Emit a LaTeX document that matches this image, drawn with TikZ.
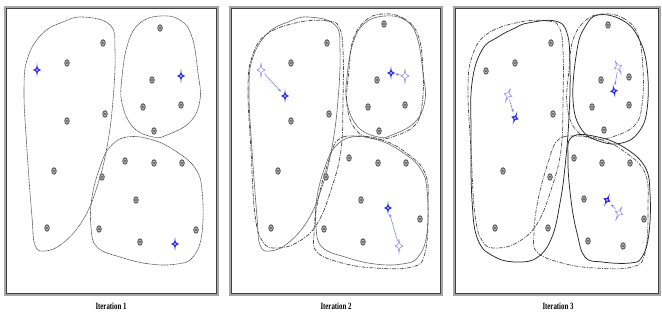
\documentclass[tikz,border=0pt]{standalone}
\usepackage{fontspec}
\setmainfont{Liberation Serif}
\usetikzlibrary{shapes.geometric,arrows.meta}

\definecolor{cblue}{HTML}{2B2BE8}
\definecolor{oblue}{HTML}{8A8AF5}

\tikzset{
  framebox/.style={draw=gray!70, line width=2pt},
  frameline/.style={draw=black!75, line width=0.5pt},
  datapt/.style={ellipse, minimum width=5.5pt, minimum height=7.5pt, inner sep=0pt,
    fill=black!62,
    path picture={\draw[gray!30, line width=0.5pt]
      (path picture bounding box.center) ellipse (1.3pt and 2.1pt);}},
  oldhull/.style={draw=gray!80!black, line width=0.6pt},
  firsthull/.style={draw=gray!60!black, line width=0.6pt, dash pattern=on 1pt off 0.5pt},
  prevhull/.style={draw=black!70, line width=0.75pt,
    dash pattern=on 4pt off 1.3pt on 1pt off 1.3pt},
  prevhulllight/.style={draw=gray!60!black, line width=0.7pt,
    dash pattern=on 4pt off 1.3pt on 1pt off 1.3pt},
  newhull/.style={draw=black!85, line width=0.75pt},
  move/.style={draw=oblue!80!cblue, line width=0.5pt,
    -{Stealth[length=3pt,width=2.4pt]}, shorten <=5pt, shorten >=6pt},
  lbl/.style={font=\bfseries\fontsize{9.5}{10}\selectfont, inner sep=0pt},
  pics/centroid/.style={code={
    \fill[cblue, even odd rule]
      (0,-7) .. controls (0.5,-1.4) and (1.2,-0.5) .. (4,0)
      .. controls (1.2,0.5) and (0.5,1.4) .. (0,7)
      .. controls (-0.5,1.4) and (-1.2,0.5) .. (-4,0)
      .. controls (-1.2,-0.5) and (-0.5,-1.4) .. (0,-7)
      (0,0) circle (1.1);}},
  pics/oldcentroid/.style={code={
    \draw[oblue, line width=0.6pt, fill=white]
      (0,-7) .. controls (0.5,-1.4) and (1.2,-0.5) .. (4,0)
      .. controls (1.2,0.5) and (0.5,1.4) .. (0,7)
      .. controls (-0.5,1.4) and (-1.2,0.5) .. (-4,0)
      .. controls (-1.2,-0.5) and (-0.5,-1.4) .. (0,-7);}}
}

% cluster outlines, in panel-local coordinates
\def\hullAa{(83,17) (110,25) (115,50) (113,100) (107,147) (97,187) (83,220) (63,243) (45,251) (35,245) (32,217) (27,150) (24,90) (28,57) (43,33) (63,22)}
\def\hullBa{(160,16) (180,20) (192,37) (198,73) (200,100) (190,122) (167,135) (153,137) (133,127) (122,103) (122,77) (128,43) (140,23)}
\def\hullCa{(127,137) (153,140) (177,152) (195,168) (202,190) (202,233) (193,257) (177,264) (150,264) (120,257) (97,247) (91,227) (92,197) (100,167) (110,147)}
\def\hullAb{(75,22) (103,21) (114,27) (118,50) (118,100) (116,150) (106,190) (92,224) (73,242) (52,248) (38,242) (30,215) (26,150) (23,90) (27,57) (42,34)}
\def\hullBb{(157,14) (178,18) (193,35) (198,70) (197,105) (190,125) (170,136) (150,139) (131,130) (122,105) (124,70) (128,40) (140,21)}
\def\hullCb{(113,140) (133,136) (157,140) (180,152) (200,173) (203,207) (200,253) (187,267) (150,268) (117,263) (92,252) (89,233) (93,200) (103,163)}
\def\hullAc{(83,23) (110,21) (122,33) (125,67) (124,117) (120,167) (115,203) (107,237) (93,257) (73,262) (50,257) (33,240) (27,200) (26,133) (27,83) (37,50) (53,37) (70,28)}
\def\hullBc{(153,15) (177,20) (193,37) (202,67) (202,110) (193,133) (177,143) (157,142) (137,130) (128,100) (132,50) (140,27)}
\def\hullCc{(127,137) (153,137) (180,148) (200,167) (205,193) (204,233) (197,257) (185,263) (157,262) (140,257) (132,233) (126,200) (123,160)}

\begin{document}
\begin{tikzpicture}[x=1pt, y=-1pt]
\useasboundingbox (0,0) rectangle (662,320);

% ---------------- panel 1 ----------------
\begin{scope}
  \draw[framebox] (5,7) rectangle (218,295);
  \draw[frameline] (6.5,8.5) rectangle (216.5,293);
  \draw[firsthull] plot[smooth cycle, tension=0.7] coordinates {\hullAa};
  \draw[firsthull] plot[smooth cycle, tension=0.7] coordinates {\hullBa};
  \draw[firsthull] plot[smooth cycle, tension=0.7] coordinates {\hullCa};
  \foreach \px/\py [count=\i] in {103/43,67/63,160/28,152/80,143/107,181/105,154/131,67/121,105/114,54/171,47/228,125/161,154/163,182/163,102/177,136/200,99/229,140/242,196/230}
    \node[datapt] (pa\i) at (\px,\py) {};
  \coordinate (ca1) at (37,70);
  \coordinate (ca2) at (181,76);
  \coordinate (ca3) at (175,244);
  \pic at (ca1) {centroid};
  \pic at (ca2) {centroid};
  \pic at (ca3) {centroid};
\end{scope}
\node[lbl] (t1) at (111,306) {\scalebox{0.72}[1]{Iteration 1}};

% ---------------- panel 2 ----------------
\begin{scope}[shift={(225,0)}]
  \draw[framebox] (5,7) rectangle (217,295);
  \draw[frameline] (6.5,8.5) rectangle (215.5,293);
  \draw[oldhull] plot[smooth cycle, tension=0.7] coordinates {\hullAa};
  \draw[oldhull] plot[smooth cycle, tension=0.7] coordinates {\hullBa};
  \draw[oldhull] plot[smooth cycle, tension=0.7] coordinates {\hullCa};
  \draw[prevhull] plot[smooth cycle, tension=0.7] coordinates {\hullAb};
  \draw[prevhull] plot[smooth cycle, tension=0.7] coordinates {\hullBb};
  \draw[prevhull] plot[smooth cycle, tension=0.7] coordinates {\hullCb};
  \foreach \px/\py [count=\i] in {102/43,66/63,159/24,152/80,143/107,180/105,154/131,66/121,104/114,53/171,46/228,124/158,153/163,181/163,101/177,136/200,99/229,138/242,195/219}
    \node[datapt] (pb\i) at (\px,\py) {};
  \coordinate (ob1) at (36,70);
  \coordinate (ob2) at (180,76);
  \coordinate (ob3) at (174,246);
  \coordinate (cb1) at (60,96);
  \coordinate (cb2) at (166,73);
  \coordinate (cb3) at (163,208);
  \pic at (ob1) {oldcentroid};
  \pic at (ob2) {oldcentroid};
  \pic at (ob3) {oldcentroid};
  \draw[move] (ob1) -- (cb1);
  \draw[move, shorten <=3.5pt, shorten >=4.5pt] (ob2) -- (cb2);
  \draw[move] (ob3) -- (cb3);
  \pic at (cb1) {centroid};
  \pic at (cb2) {centroid};
  \pic at (cb3) {centroid};
\end{scope}
\node[lbl] (t2) at (336,306) {\scalebox{0.72}[1]{Iteration 2}};

% ---------------- panel 3 ----------------
\begin{scope}[shift={(445,0)}]
  \draw[framebox] (9,7) rectangle (215,295);
  \draw[frameline] (10.5,8.5) rectangle (213.5,293);
  \draw[prevhulllight] plot[smooth cycle, tension=0.7] coordinates {\hullAb};
  \draw[prevhulllight] plot[smooth cycle, tension=0.7] coordinates {\hullBb};
  \draw[prevhulllight] plot[smooth cycle, tension=0.7] coordinates {\hullCb};
  \draw[newhull] plot[smooth cycle, tension=0.7] coordinates {\hullAc};
  \draw[newhull] plot[smooth cycle, tension=0.7] coordinates {\hullBc};
  \draw[newhull] plot[smooth cycle, tension=0.7] coordinates {\hullCc};
  \foreach \px/\py [count=\i] in {106/43,70/63,41/71,163/25,156/80,184/77,147/107,184/105,159/130,108/114,58/171,105/177,50/228,129/158,157/163,185/163,139/199,103/228,199/219,143/241,178/246}
    \node[datapt] (pc\i) at (\px,\py) {};
  \coordinate (oc1) at (63,95);
  \coordinate (oc2) at (173,67);
  \coordinate (oc3) at (174,213);
  \coordinate (cc1) at (70,118);
  \coordinate (cc2) at (169,91);
  \coordinate (cc3) at (162,200);
  \pic[rotate=-20] at (oc1) {oldcentroid};
  \pic[rotate=25] at (oc2) {oldcentroid};
  \pic[rotate=-25] at (oc3) {oldcentroid};
  \draw[move] (oc1) -- (cc1);
  \draw[move] (oc2) -- (cc2);
  \draw[move] (oc3) -- (cc3);
  \pic[rotate=-20] at (cc1) {centroid};
  \pic[rotate=10] at (cc2) {centroid};
  \pic[rotate=-25] at (cc3) {centroid};
\end{scope}
\node[lbl] (t3) at (558,306) {\scalebox{0.72}[1]{Iteration 3}};
\end{tikzpicture}
\end{document}
